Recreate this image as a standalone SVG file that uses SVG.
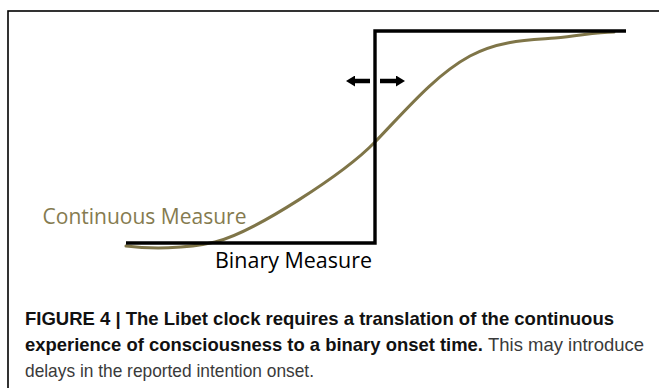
<svg xmlns="http://www.w3.org/2000/svg" width="659" height="388" viewBox="0 0 659 388">
<style>
.frame{fill:none;stroke:#000;stroke-width:1.6}
.binary{fill:none;stroke:#000;stroke-width:3.4;stroke-linejoin:miter}
.cont{fill:none;stroke:#7f7548;stroke-width:3;stroke-linecap:round}
.arrow{stroke:#000;stroke-width:4.5}
.lbl{font-family:"Open Sans","Liberation Sans",sans-serif;font-size:21.5px}
.cap{font-family:"Liberation Sans",Arial,sans-serif;font-size:18.5px}
.b{font-weight:bold;fill:#111}
.r{fill:#3a3a3a}
</style>
<defs>
<marker id="ah" markerUnits="userSpaceOnUse" markerWidth="9" markerHeight="11" refX="1" refY="5.5" orient="auto">
<path d="M0,0 L9,5.5 L0,11 Z" fill="#000"/>
</marker>
</defs>
<rect class="frame" x="8" y="11" width="660" height="390"/>
<g id="continuous-measure">
<path class="cont" d="M126,246 C150,249 185,249 215,242 C255,232 345,173 375,142 C405,111 435,75 470,56 C500,40 530,40 555,38 C580,36 595,32 614,32"/>
<text class="lbl" x="42.5" y="224" fill="#857b4f" textLength="204" lengthAdjust="spacingAndGlyphs">Continuous Measure</text>
</g>
<g id="binary-measure">
<path class="binary" d="M126,243 H375 V31 H626"/>
<text class="lbl" x="215" y="268" fill="#000" textLength="157" lengthAdjust="spacingAndGlyphs">Binary Measure</text>
</g>
<g id="connectors">
<line class="arrow" x1="370" y1="81" x2="354" y2="81" marker-end="url(#ah)"/>
<line class="arrow" x1="380" y1="81" x2="397" y2="81" marker-end="url(#ah)"/>
</g>
<g id="caption">
<text class="cap b" x="25" y="325" textLength="589" lengthAdjust="spacingAndGlyphs">FIGURE 4 | The Libet clock requires a translation of the continuous</text>
<text class="cap" x="25" y="351"><tspan class="b" textLength="458" lengthAdjust="spacingAndGlyphs">experience of consciousness to a binary onset time.</tspan><tspan class="r" x="488" textLength="156" lengthAdjust="spacingAndGlyphs">This may introduce</tspan></text>
<text class="cap r" x="25" y="377" textLength="289" lengthAdjust="spacingAndGlyphs">delays in the reported intention onset.</text>
</g>
</svg>
